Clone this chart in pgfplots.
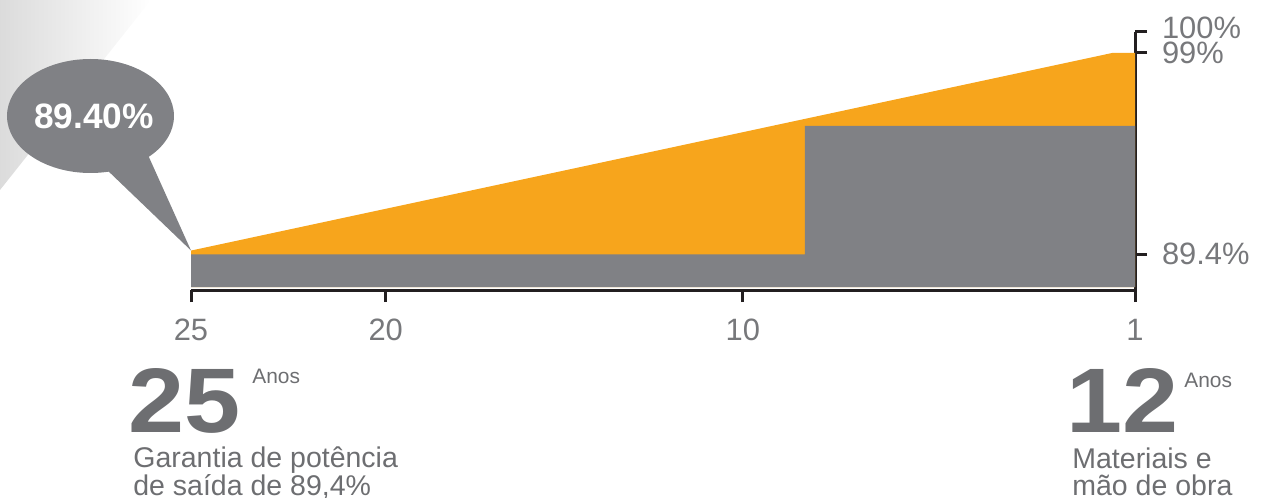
\documentclass[border=0pt]{standalone}
\usepackage{fontspec}
\setmainfont{Liberation Sans}
\usepackage{pgfplots}
\pgfplotsset{compat=1.18}

\definecolor{orangec}{HTML}{F7A51C}
\definecolor{grayc}{HTML}{808185}
\definecolor{axisc}{HTML}{231F20}
\definecolor{txtc}{HTML}{6D6E71}
\definecolor{tickc}{HTML}{77787B}

\begin{document}
\begin{tikzpicture}
% page = 1262x498 px at 0.5bp per px, axis box lower left at px (191,290)
\useasboundingbox (-95.5bp,-104bp) rectangle (535.5bp,145bp);

% faint wall shading in the top left corner
\begin{scope}
  \clip (-95.5bp,145bp) -- (-20bp,145bp) -- (-95.5bp,50bp) -- cycle;
  \shade[left color=gray!28, right color=white] (-95.5bp,50bp) rectangle (-20bp,145bp);
\end{scope}

\begin{axis}[
    at={(0,0)}, anchor=south west,
    scale only axis,
    width=472bp, height=129bp,
    xmin=0, xmax=24,
    ymin=87.7, ymax=100,
    axis x line=bottom, axis y line=right,
    axis line style={-, draw=axisc, line width=1.5bp},
    every outer x axis line/.append style={-},
    every outer y axis line/.append style={-},
    tick align=outside,
    major tick length=6bp,
    tick style={draw=axisc, line width=1.5bp},
    % year ticks are not evenly spaced in the original
    xtick={0,4.95,14.03,24},
    xticklabels={25,20,10,1},
    ytick={89.4,99},
    yticklabels={89.4\%,99\%},
    extra y ticks={100},
    extra y tick labels={100\%},
    extra y tick style={yticklabel style={yshift=2bp}},
    /pgf/number format/assume math mode=true,
    ticklabel style={font=\fontsize{15.5}{15.5}\selectfont, text=tickc},
    yticklabel style={font=\fontsize{15.5}{15.5}\selectfont, xshift=4bp},
    xticklabel style={yshift=-5bp},
    clip=false,
]

% power warranty (linear)
\addplot[fill=orangec, draw=none] coordinates {
    (0,87.84) (0,89.58) (23.42,99) (24,99) (24,87.84)
} -- cycle;

% guaranteed levels (step)
\addplot[fill=grayc, draw=none] coordinates {
    (0,87.84) (0,89.4) (15.61,89.4) (15.61,95.53) (24,95.53) (24,87.84)
} -- cycle;

\end{axis}

% speech bubble
\fill[grayc] (-50.25bp,87bp) ellipse [x radius=41.75bp, y radius=28.5bp];
\fill[grayc] (-43bp,61bp) -- (0bp,19.75bp) -- (-21.5bp,67.5bp) -- cycle;
\node[font=\bfseries\fontsize{17.7}{17.7}\selectfont, text=white] at (-48.5bp,87bp) {89.40\%};

% captions below
\node[anchor=base west, inner sep=0, text=txtc, font=\bfseries\fontsize{46}{46}\selectfont] at (-31.5bp,-71bp) {\scalebox{1.1}[1]{25}};
\node[anchor=base west, inner sep=0, text=txtc, font=\fontsize{10.5}{10.5}\selectfont] at (30.5bp,-46.5bp) {Anos};
\node[anchor=base west, inner sep=0, text=txtc, font=\fontsize{14.3}{14.3}\selectfont] at (-29bp,-88.5bp) {Garantia de potência};
\node[anchor=base west, inner sep=0, text=txtc, font=\fontsize{14.3}{14.3}\selectfont] at (-29bp,-102.5bp) {de saída de 89,4\%};

\node[anchor=base west, inner sep=0, text=txtc, font=\bfseries\fontsize{46}{46}\selectfont] at (437.5bp,-71bp) {\scalebox{1.1}[1]{12}};
\node[anchor=base west, inner sep=0, text=txtc, font=\fontsize{10.5}{10.5}\selectfont] at (496.5bp,-48.5bp) {Anos};
\node[anchor=base west, inner sep=0, text=txtc, font=\fontsize{14.3}{14.3}\selectfont] at (440.5bp,-89bp) {Materiais e};
\node[anchor=base west, inner sep=0, text=txtc, font=\fontsize{14.3}{14.3}\selectfont] at (440.5bp,-102.5bp) {mão de obra};
\end{tikzpicture}
\end{document}
